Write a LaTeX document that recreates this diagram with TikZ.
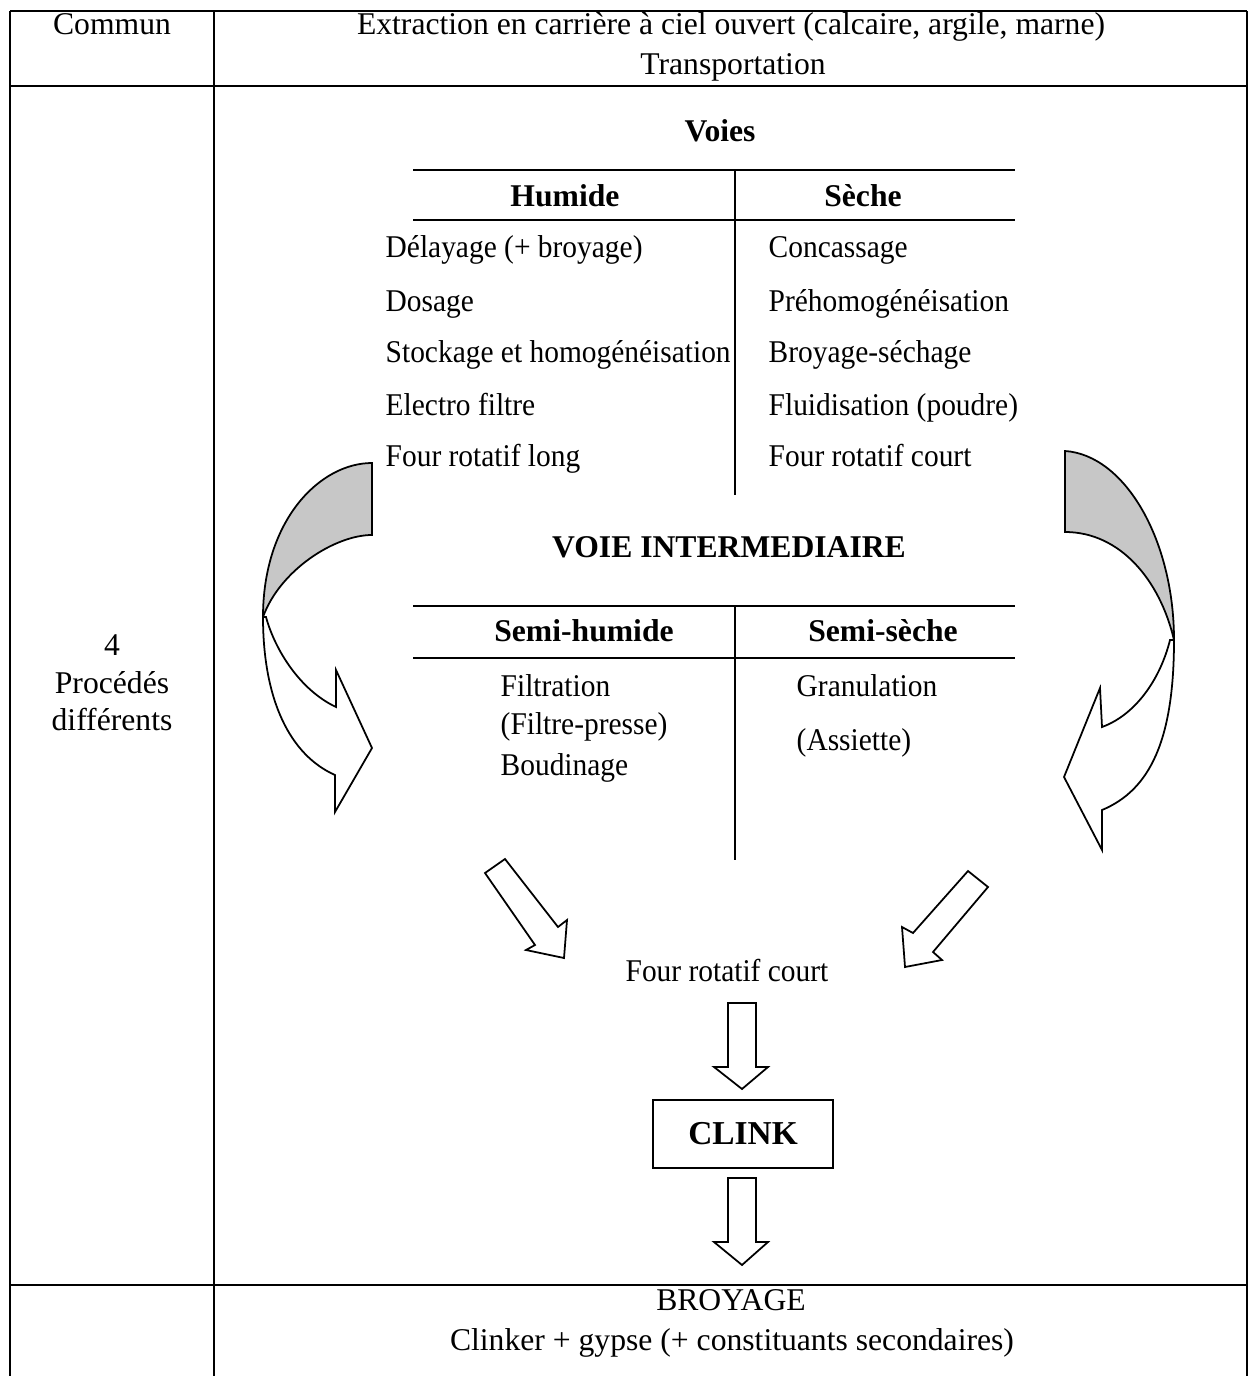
\documentclass[tikz,border=0pt]{standalone}
\usepackage{fontspec}
\setmainfont{Liberation Serif}
\newfontfamily\condfont[FakeStretch=0.93]{Liberation Serif}
\begin{document}
\begin{tikzpicture}[x=0.01cm,y=-0.01cm,
  txt/.style={font=\fontsize{9pt}{11pt}\selectfont, inner sep=0pt},
  ctxt/.style={font=\fontsize{9pt}{11pt}\condfont, inner sep=0pt},
  btxt/.style={font=\fontsize{9pt}{11pt}\selectfont\bfseries, inner sep=0pt},
  rule/.style={line width=0.6pt},
  blockarrow/.style={draw, line width=0.5pt, fill=white, line join=miter},
  shadearrow/.style={draw, line width=0.5pt, fill=black!22, line join=miter}]

\useasboundingbox (0,0) rectangle (1248,1376);

% ---- table frame
\draw[line width=0.8pt] (10,11) -- (1247,11);
\draw[rule] (10,86) -- (1247,86);
\draw[rule] (10,1285) -- (1247,1285);
\draw[rule] (10,11) -- (10,1376);
\draw[rule] (214,11) -- (214,1376);
\draw[rule] (1247,11) -- (1247,1376);

% ---- top row
\node[txt, anchor=base] (commun) at (112,35) {Commun};
\node[txt, anchor=base] (extr) at (731,35) {Extraction en carrière à ciel ouvert (calcaire, argile, marne)};
\node[txt, anchor=base] (transp) at (733,75) {Transportation};

% ---- left column
\node[txt, anchor=base] (quatre) at (112,655) {4};
\node[txt, anchor=base] (procedes) at (112,693) {Procédés};
\node[txt, anchor=base] (differents) at (112,730) {différents};

% ---- Voies table
\node[btxt, anchor=base] (voies) at (720,142) {Voies};
\draw[rule] (413,170) -- (1015,170);
\draw[rule] (413,220) -- (1015,220);
\draw[rule] (735,170) -- (735,495);
\node[btxt, anchor=base] (humide) at (565,206) {Humide};
\node[btxt, anchor=base] (seche) at (863,206) {Sèche};

\node[ctxt, anchor=base west] (h1) at (385,258) {Délayage (+ broyage)};
\node[ctxt, anchor=base west] (h2) at (385,311) {Dosage};
\node[ctxt, anchor=base west] (h3) at (385,362) {Stockage et homogénéisation};
\node[ctxt, anchor=base west] (h4) at (385,415) {Electro filtre};
\node[ctxt, anchor=base west] (h5) at (385,466) {Four rotatif long};

\node[ctxt, anchor=base west] (s1) at (768,258) {Concassage};
\node[ctxt, anchor=base west] (s2) at (768,311) {Préhomogénéisation};
\node[ctxt, anchor=base west] (s3) at (768,362) {Broyage-séchage};
\node[ctxt, anchor=base west] (s4) at (768,415) {Fluidisation (poudre)};
\node[ctxt, anchor=base west] (s5) at (768,466) {Four rotatif court};

% ---- Voie intermediaire
\node[btxt, anchor=base] (vi) at (729,557) {VOIE INTERMEDIAIRE};
\draw[rule] (413,606) -- (1015,606);
\draw[rule] (413,658) -- (1015,658);
\draw[rule] (735,606) -- (735,860);
\node[btxt, anchor=base] (semih) at (584,641) {Semi-humide};
\node[btxt, anchor=base] (semis) at (883,641) {Semi-sèche};

\node[ctxt, anchor=base west] (sh1) at (500,696) {Filtration};
\node[ctxt, anchor=base west] (sh2) at (500,734) {(Filtre-presse)};
\node[ctxt, anchor=base west] (sh3) at (500,775) {Boudinage};
\node[ctxt, anchor=base west] (ss1) at (796,696) {Granulation};
\node[ctxt, anchor=base west] (ss2) at (796,750) {(Assiette)};

% ---- left curved arrow
\draw[shadearrow] (372,463) .. controls (320,463) and (263,520) .. (263,617)
   .. controls (280,570) and (335,535) .. (372,535) -- cycle;
\draw[blockarrow] (266,617) .. controls (275,650) and (300,690) .. (336,707)
   -- (336,670) -- (372,748) -- (335,812) -- (335,775)
   .. controls (290,755) and (263,700) .. (263,617) -- cycle;

% ---- right curved arrow
\draw[shadearrow] (1065,451) .. controls (1125,455) and (1174,540) .. (1174,640)
   .. controls (1160,580) and (1120,532) .. (1065,532) -- cycle;
\draw[blockarrow] (1170,640) .. controls (1160,680) and (1135,715) .. (1102,727)
   -- (1100,688) -- (1064,777) -- (1102,850) -- (1102,810)
   .. controls (1150,790) and (1174,740) .. (1174,640) -- cycle;

% ---- diagonal arrows
\draw[blockarrow] (485,873) -- (505,859) -- (558,927) -- (567,920) -- (564,958)
   -- (526,950) -- (535,945) -- cycle;
\draw[blockarrow] (968,871) -- (988,887) -- (933,952) -- (942,960) -- (905,967)
   -- (902,927) -- (913,933) -- cycle;

% ---- four rotatif court, CLINK
\node[ctxt, anchor=base] (four) at (727,981) {Four rotatif court};
\node[draw, btxt, font=\fontsize{9.5pt}{11pt}\selectfont\bfseries, line width=0.6pt, minimum width=1.8cm, minimum height=0.68cm] (clink) at (743,1134) {CLINK};

\draw[blockarrow] (728,1003) -- (756,1003) -- (756,1067) -- (768,1067) -- (742,1089)
   -- (714,1067) -- (728,1067) -- cycle;
\draw[blockarrow] (728,1178) -- (756,1178) -- (756,1242) -- (768,1242) -- (742,1265)
   -- (714,1242) -- (728,1242) -- cycle;

% ---- bottom row
\node[txt, anchor=base] (broyage) at (731,1310) {BROYAGE};
\node[txt, anchor=base] (clinker) at (732,1350) {Clinker + gypse (+ constituants secondaires)};

\end{tikzpicture}
\end{document}
